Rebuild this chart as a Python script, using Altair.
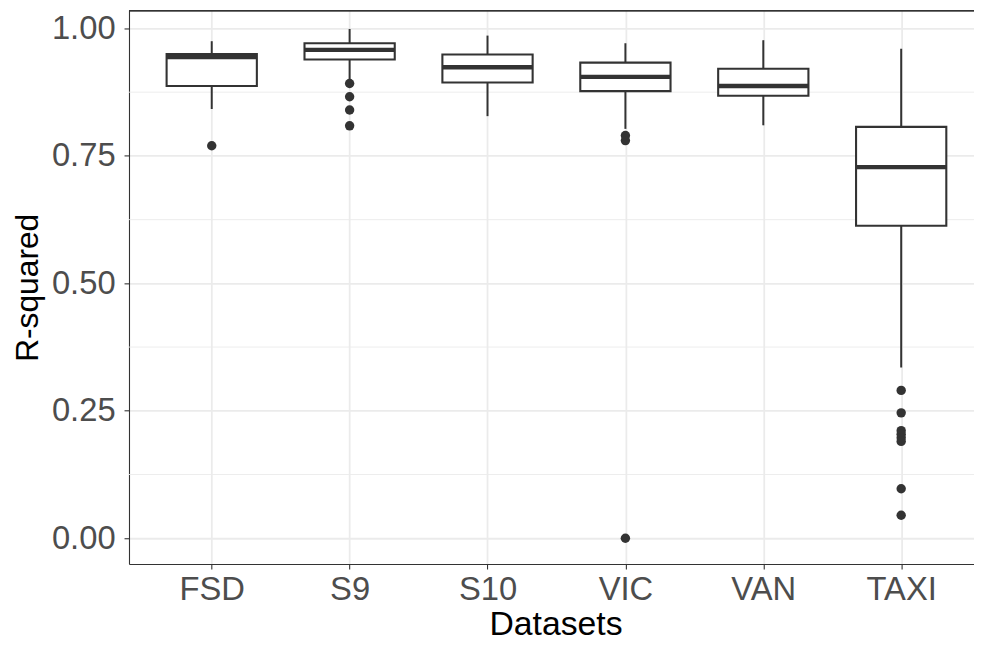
import altair as alt
import pandas as pd

# ---- data ----
datasets = ["FSD", "S9", "S10", "VIC", "VAN", "TAXI"]
whisker_low = [0.842, 0.897, 0.828, 0.803, 0.810, 0.335]
q1 = [0.887, 0.939, 0.894, 0.877, 0.868, 0.613]
median = [0.944, 0.958, 0.924, 0.905, 0.887, 0.728]
q3 = [0.950, 0.971, 0.949, 0.933, 0.921, 0.807]
whisker_high = [0.975, 0.999, 0.986, 0.971, 0.977, 0.960]

outlier_dataset = ["FSD", "S9", "S9", "S9", "S9", "VIC", "VIC", "VIC",
                   "TAXI", "TAXI", "TAXI", "TAXI", "TAXI", "TAXI", "TAXI", "TAXI"]
outlier_value = [0.770, 0.892, 0.866, 0.840, 0.809, 0.790, 0.780, 0.000,
                 0.290, 0.246, 0.211, 0.204, 0.197, 0.190, 0.097, 0.045]

y_ticks = [0.0, 0.25, 0.5, 0.75, 1.0]
y_minor = [0.125, 0.375, 0.625, 0.875]

box_df = pd.DataFrame({
    "dataset": datasets, "lo": whisker_low, "q1": q1,
    "median": median, "q3": q3, "hi": whisker_high,
})
out_df = pd.DataFrame({"dataset": outlier_dataset, "value": outlier_value})
minor_df = pd.DataFrame({"minor": y_minor})

W, H = 852, 558
DARK = "#333333"
GRID = "#EBEBEB"

yscale = alt.Scale(domain=[-0.0506, 1.035], nice=False, zero=False)
xscale = alt.Scale(type="point", domain=datasets, padding=0.6, range=[0, 862])

xaxis = alt.Axis(title="Datasets", labelFontSize=33, labelColor="#4D4D4D",
                 labelBaseline="alphabetic", labelPadding=31, tickSize=5,
                 tickColor=DARK, tickWidth=1.1, domainColor=DARK, domainWidth=1.1,
                 grid=True, gridColor=GRID, gridWidth=1.8,
                 titleFontSize=34, titleColor="black", titleFontWeight="normal",
                 titleBaseline="alphabetic", titleX=430, titleY=71, titleAlign="center",
                 labelAngle=0)
yaxis = alt.Axis(title="R-squared", values=y_ticks, format=".2f", labelFontSize=33,
                 labelColor="#4D4D4D", labelPadding=9, tickSize=5, tickColor=DARK,
                 tickWidth=1.1, domainColor=DARK, domainWidth=1.1,
                 grid=True, gridColor=GRID, gridWidth=1.8,
                 titleFontSize=32, titleColor="black", titleFontWeight="normal",
                 titleAngle=270, titleBaseline="alphabetic", titleAlign="center",
                 titleX=-92, titleY=279)


def X():
    return alt.X("dataset:N", scale=xscale, axis=xaxis, sort=datasets)


def Y(field):
    return alt.Y(field, scale=yscale, axis=yaxis)


minor = alt.Chart(minor_df).mark_rule(color=GRID, strokeWidth=0.9).encode(
    y=Y("minor:Q"),
    x=alt.value(0), x2=alt.value(W),
)

whiskers = alt.Chart(box_df).mark_rule(color=DARK, strokeWidth=2).encode(
    x=X(), y=Y("lo:Q"), y2="hi:Q",
)

boxes = alt.Chart(box_df).mark_bar(size=91, fill="white", stroke=DARK,
                                   strokeWidth=2.1).encode(
    x=X(), y=Y("q1:Q"), y2="q3:Q",
)

medians = alt.Chart(box_df).mark_tick(size=91, thickness=4.5, color=DARK,
                                      opacity=1).encode(
    x=X(), y=Y("median:Q"),
)

outliers = alt.Chart(out_df).mark_circle(size=90, color=DARK, opacity=1).encode(
    x=X(), y=Y("value:Q"),
)

top_border = alt.Chart(minor_df).mark_rule(color=DARK, strokeWidth=1.1).encode(
    y=alt.value(0), x=alt.value(0), x2=alt.value(W + 20),
)

chart = alt.layer(minor, whiskers, boxes, medians, outliers, top_border).properties(
    width=W, height=H,
    autosize=alt.AutoSizeParams(type="none"),
    padding={"left": 122, "top": 0, "right": 0, "bottom": 79},
).configure(font="Liberation Sans").configure_view(strokeWidth=0)

chart.save("out.html", embed_options={"renderer": "svg", "actions": False})
